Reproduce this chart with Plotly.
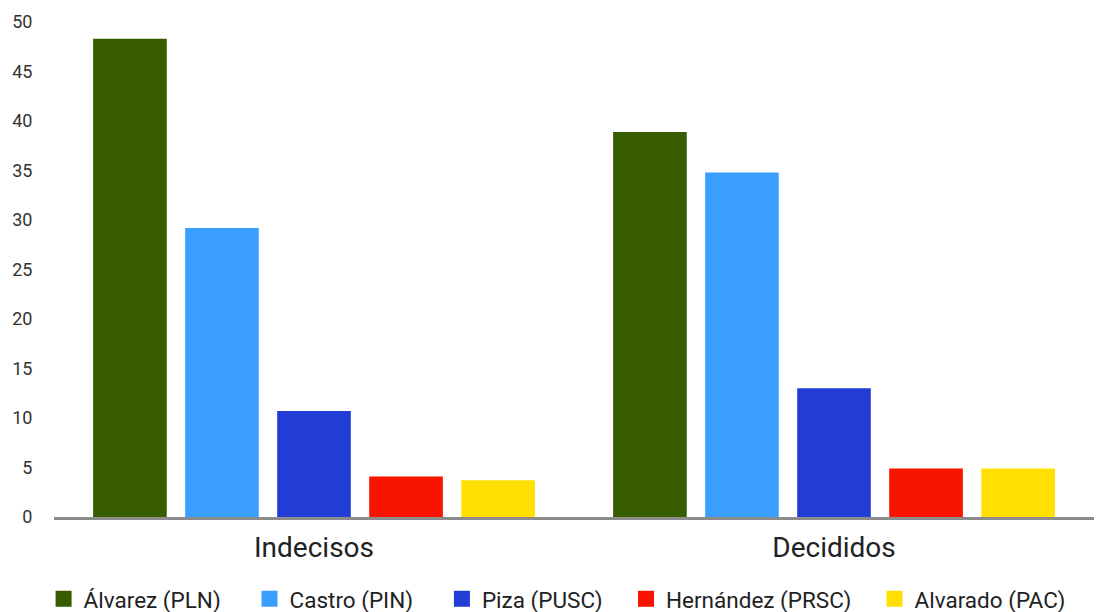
import plotly.graph_objects as go

categories = ["Indecisos", "Decididos"]
candidates = ["Álvarez (PLN)", "Castro (PIN)", "Piza (PUSC)", "Hernández (PRSC)", "Alvarado (PAC)"]
alvarez = [48.3, 38.9]
castro = [29.2, 34.8]
piza = [10.7, 13.0]
hernandez = [4.1, 4.9]
alvarado = [3.7, 4.9]
y_ticks = [0, 5, 10, 15, 20, 25, 30, 35, 40, 45, 50]

colors = ["#385D00", "#3A9EFF", "#213DD4", "#F91400", "#FFE000"]
series = [alvarez, castro, piza, hernandez, alvarado]
legend_x = [-0.010, 0.188, 0.373, 0.550, 0.789]

fig = go.Figure()
for name, vals, col in zip(candidates, series, colors):
    fig.add_trace(go.Bar(x=categories, y=vals, name=name, marker=dict(color=col, line=dict(width=0)),
                         showlegend=False))
legends = {}
for i, (name, col) in enumerate(zip(candidates, colors)):
    lname = "legend" if i == 0 else f"legend{i+1}"
    fig.add_trace(go.Scatter(x=[None], y=[None], mode="markers", name=name, legend=lname,
                             marker=dict(symbol="square", size=16, color=col)))
    legends[lname] = dict(orientation="h", x=legend_x[i], xanchor="left", y=-0.166, yanchor="middle",
                          font=dict(size=22.5, color="#222222"), bgcolor="rgba(0,0,0,0)")

font = "Roboto, DejaVu Sans, sans-serif"
fig.update_layout(
    width=1096, height=612,
    margin=dict(l=54, r=2, t=22, b=95, autoexpand=False),
    paper_bgcolor="white", plot_bgcolor="white",
    barmode="group", bargap=0.115, bargroupgap=0.2,
    font=dict(family=font, color="#333333"),
    showlegend=True,
    xaxis=dict(showline=True, linecolor="#8c8c8c", linewidth=3, showgrid=False, automargin=False,
               ticks="outside", ticklen=3, tickcolor="rgba(0,0,0,0)",
               tickfont=dict(size=28, color="#222222"), fixedrange=True),
    yaxis=dict(range=[0, 50], tickvals=y_ticks, showgrid=False, zeroline=False, showline=False,
               automargin=False, ticks="outside", ticklen=17, tickcolor="rgba(0,0,0,0)",
               tickfont=dict(size=18, color="#333333")),
    **legends,
)
fig.write_html("out.html", config={"displayModeBar": False},
               post_script="document.body.style.margin='0';")
